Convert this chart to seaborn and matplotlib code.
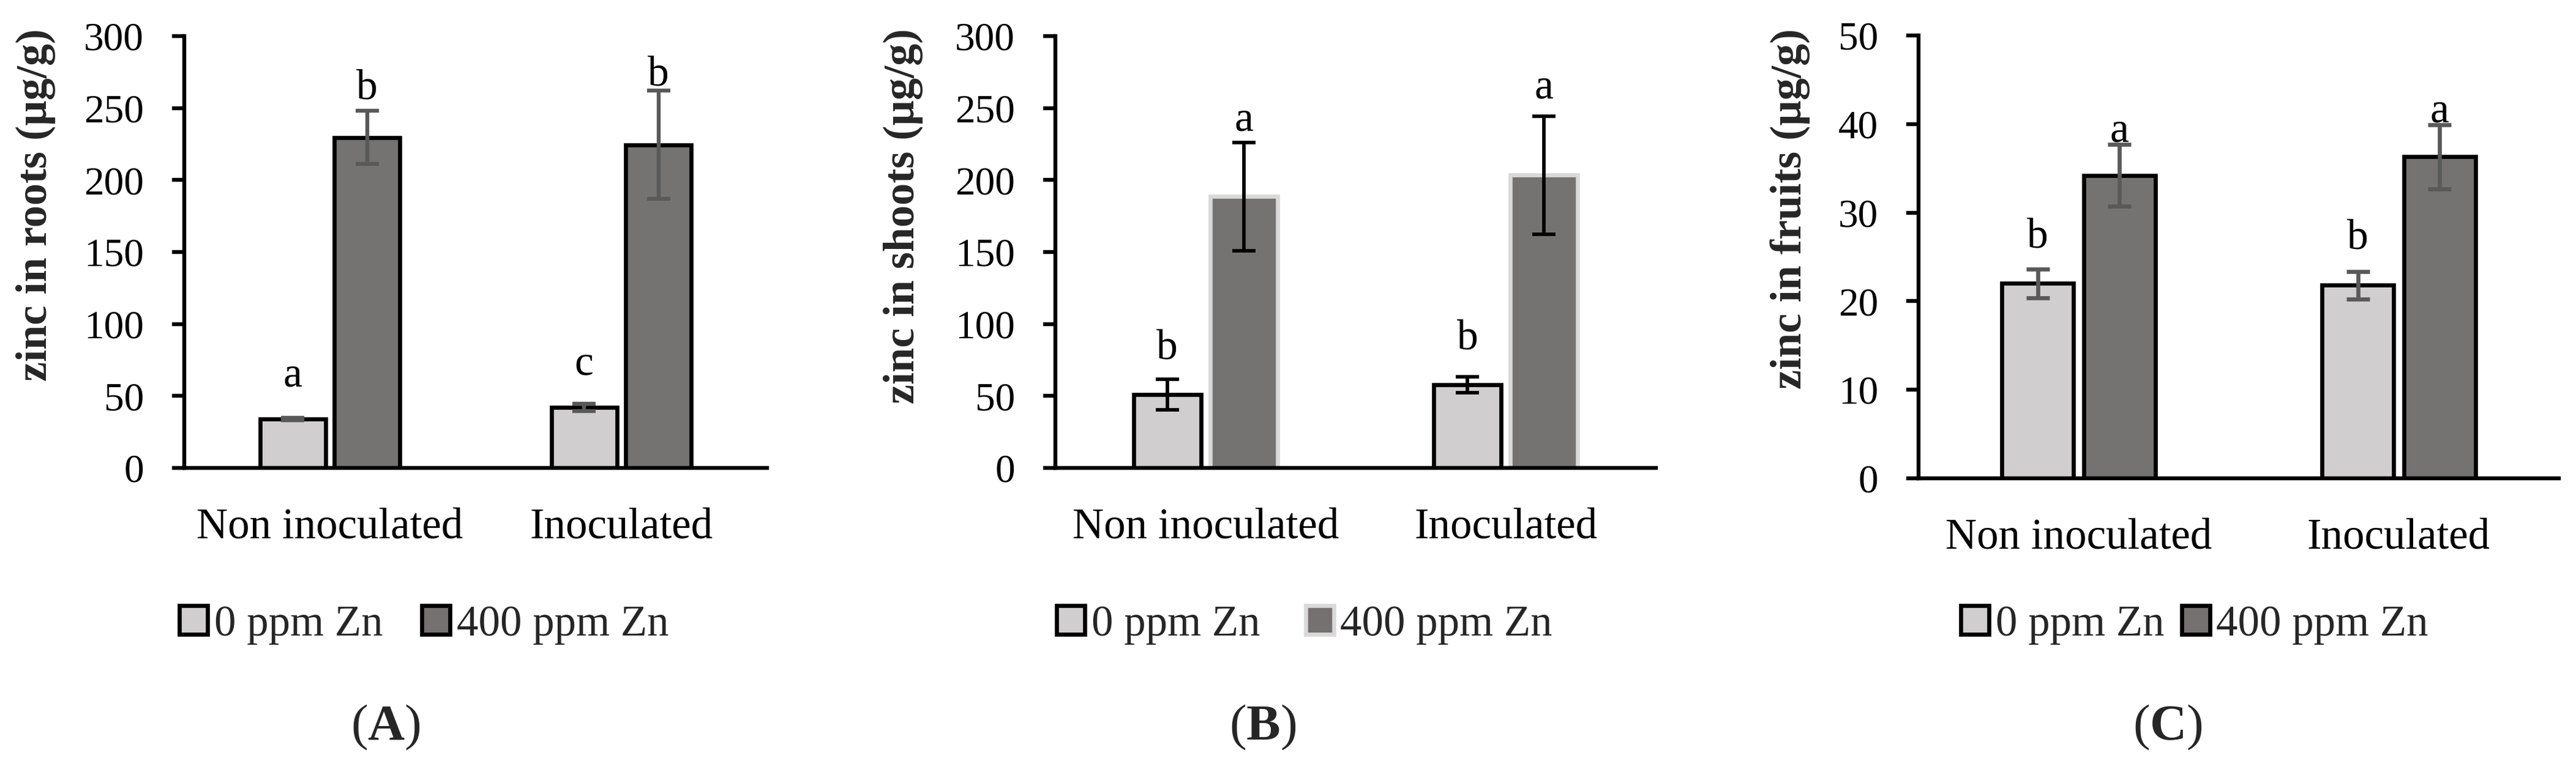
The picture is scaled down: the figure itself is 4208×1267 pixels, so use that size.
import numpy as np
import pandas as pd
import matplotlib
matplotlib.use("Agg")
import matplotlib.pyplot as plt
from matplotlib.patches import Patch
import seaborn as sns

# ---------------- data ----------------
groups = ["Non inoculated", "Inoculated"]
doses = ["0 ppm Zn", "400 ppm Zn"]

roots_0 = [34.0, 42.0]
roots_0_err = [1.0, 2.5]
roots_400 = [229.5, 224.5]
roots_400_err = [18.5, 37.5]
roots_letters_0 = ["a", "c"]
roots_letters_400 = ["b", "b"]
roots_letter_y_0 = [63.7, 72.0]
roots_letter_y_400 = [263.5, 273.0]

shoots_0 = [51.0, 57.7]
shoots_0_err = [10.5, 5.5]
shoots_400 = [188.5, 203.5]
shoots_400_err = [37.5, 41.0]
shoots_letters_0 = ["b", "b"]
shoots_letters_400 = ["a", "a"]
shoots_letter_y_0 = [82.8, 89.6]
shoots_letter_y_400 = [241.5, 263.8]

fruits_0 = [22.0, 21.8]
fruits_0_err = [1.6, 1.55]
fruits_400 = [34.2, 36.3]
fruits_400_err = [3.5, 3.6]
fruits_letters_0 = ["b", "b"]
fruits_letters_400 = ["a", "a"]
fruits_letter_y_0 = [27.2, 27.1]
fruits_letter_y_400 = [39.2, 41.4]

ylabels = ["zinc in roots (µg/g)", "zinc in shoots (µg/g)", "zinc in fruits (µg/g)"]
panel_tags = ["A", "B", "C"]

# ---------------- style ----------------
sns.set_theme(style="ticks")
plt.rcParams["font.family"] = ["Liberation Serif", "DejaVu Serif"]
plt.rcParams["mathtext.fontset"] = "custom"
plt.rcParams["mathtext.rm"] = "Liberation Serif"
plt.rcParams["mathtext.bf"] = "Liberation Serif:bold"

LIGHT = "#D0CECE"
DARK = "#767171"
FS_NUM = 47
FS_TXT = 51
FS_LET = 50

W, H = 4208, 1267
fig = plt.figure(figsize=(W / 100, H / 100), dpi=100)
fig.patch.set_facecolor("white")


def rect(l, r, top, bottom):
    return [l / W, 1 - bottom / H, (r - l) / W, (bottom - top) / H]


panels = [
    dict(rect=rect(301, 1253, 59, 765), ylim=300, step=50,
         v0=roots_0, e0=roots_0_err, v1=roots_400, e1=roots_400_err,
         l0=roots_letters_0, l1=roots_letters_400,
         ly0=roots_letter_y_0, ly1=roots_letter_y_400,
         ecolor="#595959", edge1="black", elw=4.6,
         ylab_x=58, leg_x=693, colsp=0.9, tag_x=630),
    dict(rect=rect(1724, 2705, 59, 765), ylim=300, step=50,
         v0=shoots_0, e0=shoots_0_err, v1=shoots_400, e1=shoots_400_err,
         l0=shoots_letters_0, l1=shoots_letters_400,
         ly0=shoots_letter_y_0, ly1=shoots_letter_y_400,
         ecolor="black", edge1="#D9D9D9", elw=4.1,
         ylab_x=1475, leg_x=2131, colsp=1.05, tag_x=2063),
    dict(rect=rect(3134, 4180, 58, 782), ylim=50, step=10,
         v0=fruits_0, e0=fruits_0_err, v1=fruits_400, e1=fruits_400_err,
         l0=fruits_letters_0, l1=fruits_letters_400,
         ly0=fruits_letter_y_0, ly1=fruits_letter_y_400,
         ecolor="#595959", edge1="black", elw=4.8,
         ylab_x=2924, leg_x=3585, colsp=0.4, tag_x=3541),
]

for p, ylab, tag in zip(panels, ylabels, panel_tags):
    ax = fig.add_axes(p["rect"])
    df = pd.DataFrame({
        "group": groups * 2,
        "dose": [doses[0]] * 2 + [doses[1]] * 2,
        "value": list(p["v0"]) + list(p["v1"]),
    })
    sns.barplot(data=df, x="group", y="value", hue="dose", order=groups,
                hue_order=doses, palette=[LIGHT, DARK], width=0.51, gap=0.12,
                edgecolor="black", linewidth=4.8, errorbar=None, legend=False,
                ax=ax, zorder=2)
    bar_conts = list(ax.containers)
    for bar in bar_conts[1]:
        bar.set_edgecolor(p["edge1"])

    errs = [p["e0"], p["e1"]]
    letters = [p["l0"], p["l1"]]
    letter_y = [p["ly0"], p["ly1"]]
    for ci, cont in enumerate(bar_conts):
        xs = [b.get_x() + b.get_width() / 2 for b in cont]
        ys = [b.get_height() for b in cont]
        ax.errorbar(xs, ys, yerr=errs[ci], fmt="none", ecolor=p["ecolor"],
                    elinewidth=p["elw"], capsize=13.7, capthick=p["elw"],
                    zorder=4)
        for x, lt, ly in zip(xs, letters[ci], letter_y[ci]):
            ax.text(x, ly, lt, ha="center", va="center", fontsize=FS_LET,
                    color="black", zorder=5)

    ax.set_xlim(-0.5, 1.5)
    ax.set_ylim(0, p["ylim"])
    ax.set_yticks(np.arange(0, p["ylim"] + 0.1, p["step"]))
    ax.set_xlabel("")
    ax.set_ylabel("")
    sns.despine(ax=ax)
    for s in ["left", "bottom"]:
        ax.spines[s].set_linewidth(4.6)
        ax.spines[s].set_color("black")
    ax.tick_params(axis="y", length=14.5, width=4.6, direction="out",
                   pad=33, labelsize=FS_NUM, colors="black")
    ax.tick_params(axis="x", length=0, pad=47, labelsize=FS_TXT, colors="black")
    ax.set_facecolor("white")
    ax.grid(False)

    fig.text(p["ylab_x"] / W, 1 - 47 / H, ylab, rotation=90, ha="center",
             va="top", fontsize=52, fontweight="bold")

    handles = [Patch(facecolor=LIGHT, edgecolor="black", linewidth=4.8),
               Patch(facecolor=DARK, edgecolor=p["edge1"], linewidth=4.8)]
    fig.legend(handles, doses, loc="center",
               bbox_to_anchor=(p["leg_x"] / W, 1 - 1021 / H), ncol=2,
               frameon=False, fontsize=FS_TXT, handlelength=0.65,
               handleheight=0.65, handletextpad=0.15,
               columnspacing=p["colsp"], borderpad=0)

    fig.text(p["tag_x"] / W, 1 - 1189 / H, r"($\mathbf{%s}$)" % tag,
             ha="center", va="center", fontsize=60)

fig.savefig("out.png", dpi=100, facecolor="white")
